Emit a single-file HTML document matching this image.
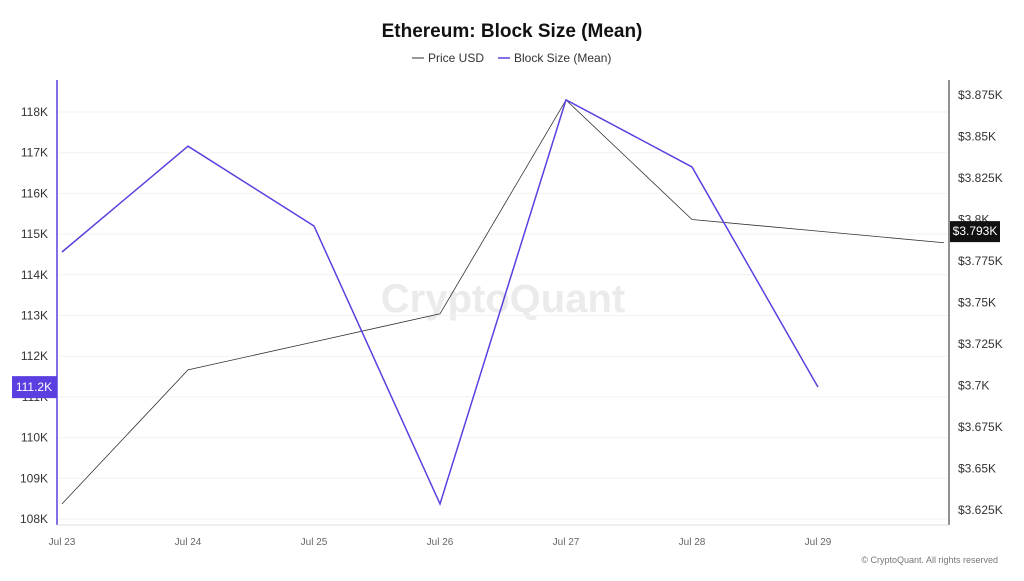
<!DOCTYPE html>
<html><head><meta charset="utf-8"><style>
body{margin:0;background:#fff;font-family:"Liberation Sans",sans-serif}
svg text{font-family:"Liberation Sans",sans-serif}
</style></head><body>
<svg id="c" width="1024" height="576">
<text x="512" y="37" text-anchor="middle" font-size="19" font-weight="bold" fill="#111">Ethereum: Block Size (Mean)</text>
<g>
<line x1="412" y1="58" x2="424" y2="58" stroke="#555" stroke-width="1.2"/>
<text x="428" y="62" font-size="12" fill="#333">Price USD</text>
<line x1="498" y1="58" x2="510" y2="58" stroke="#5b3fe0" stroke-width="1.5"/>
<text x="514" y="62" font-size="12" fill="#333">Block Size (Mean)</text>
</g>
<text x="503" y="312" text-anchor="middle" font-size="40" fill="#ebebeb" font-weight="bold">CryptoQuant</text>
<g id="grid"></g><g id="axes"></g><g id="marks"></g>
<text x="998" y="563" text-anchor="end" font-size="9" fill="#777">© CryptoQuant. All rights reserved</text>
</svg>
<script>
const dates=["Jul 23","Jul 24","Jul 25","Jul 26","Jul 27","Jul 28","Jul 29"];
const blockSize=[114.56,117.16,115.2,108.37,118.3,116.65,111.24];
const price=[3.6287,3.7094,3.7263,3.7432,3.872,3.800,3.7930,3.786];
const leftTicks=[108,109,110,111,112,113,114,115,116,117,118];
const rightTicks=[3.625,3.65,3.675,3.7,3.725,3.75,3.775,3.8,3.825,3.85,3.875];
const NS="http://www.w3.org/2000/svg";
const x=i=>62+i*126;
const yL=v=>519-(v-108)*40.7;
const yR=v=>510-(v-3.625)*1660;
function mk(t,a,p){const e=document.createElementNS(NS,t);for(const k in a)e.setAttribute(k,a[k]);p.appendChild(e);return e;}
const grid=document.getElementById('grid'),axes=document.getElementById('axes'),marks=document.getElementById('marks');
leftTicks.forEach(v=>{
 const l=mk('line',{x1:57,x2:949,y1:yL(v),y2:yL(v),stroke:'#f2f2f2'},grid);
 
 
 const t=mk('text',{x:48,y:yL(v)+4,'text-anchor':'end','font-size':12,fill:'#333'},axes);
 t.textContent=v+'K';
 
 
});
rightTicks.forEach(v=>{
 const t=mk('text',{x:958,y:yR(v)+4,'font-size':12,fill:'#333'},axes);
 t.textContent='$'+(+v.toFixed(3))+'K';
 
 
});
dates.forEach((d,i)=>{
 const t=mk('text',{x:x(i),y:545,'text-anchor':'middle','font-size':10,fill:'#666'},axes);
 t.textContent=d;
 
 
});
let a=mk('line',{x1:57,x2:57,y1:80,y2:525,stroke:'#5b3fe0','stroke-width':1.5},axes);


a=mk('line',{x1:949,x2:949,y1:80,y2:525,stroke:'#222','stroke-width':1},axes);


a=mk('line',{x1:57,x2:949,y1:525,y2:525,stroke:'#ddd'},axes);


let p=mk('polyline',{points:price.map((v,i)=>x(i)+','+yR(v)).join(' '),fill:'none',stroke:'#333','stroke-width':0.8},marks);


p=mk('polyline',{points:blockSize.map((v,i)=>x(i)+','+yL(v)).join(' '),fill:'none',stroke:'#5b3fe0','stroke-width':1.5},marks);


const lb=blockSize[blockSize.length-1];
let r=mk('rect',{x:12,y:yL(lb)-11,width:45,height:22,fill:'#5b3fe0'},marks);


let t=mk('text',{x:34,y:yL(lb)+4,'text-anchor':'middle','font-size':12,fill:'#fff'},marks);
t.textContent=lb.toFixed(1)+'K';


const lp=price[6];
r=mk('rect',{x:950,y:yR(lp)-10,width:50,height:21,fill:'#111'},marks);


t=mk('text',{x:975,y:yR(lp)+4,'text-anchor':'middle','font-size':12,fill:'#fff'},marks);
t.textContent='$'+lp.toFixed(3)+'K';


</script>
</body></html>
